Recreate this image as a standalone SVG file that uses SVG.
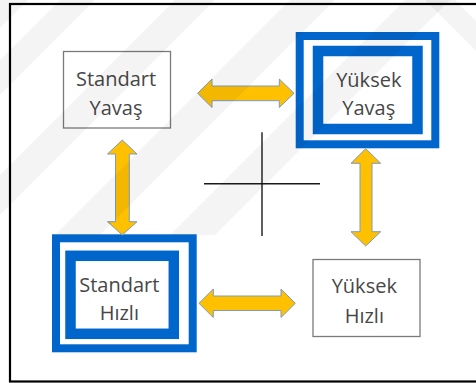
<svg xmlns="http://www.w3.org/2000/svg" width="476" height="383" viewBox="0 0 476 383">
  <style>
    .lbl { font-family: "Open Sans", "Noto Sans", "DejaVu Sans", sans-serif; font-size: 20px; fill: #474747; text-anchor: middle; }
    .plain { fill: #ffffff; stroke: #7a7a7a; stroke-width: 1.3; }
    .outer { fill: none; stroke: #0066cc; stroke-width: 8; }
    .inner { fill: #ffffff; stroke: #0066cc; stroke-width: 10.5; }
    .arrow { fill: #ffc000; stroke: #7d9cc0; stroke-width: 1; stroke-linejoin: miter; }
    .cross { stroke: #1a1a1a; stroke-width: 1.4; }
    .wm { fill: #000000; fill-opacity: 0.045; }
  </style>

  <!-- page -->
  <rect x="0" y="0" width="476" height="383" fill="#ffffff"/>

  <!-- nodes -->
  <g id="standart-yavas">
    <rect class="plain" x="63.5" y="51.5" width="107" height="76.5"/>
    <text class="lbl" x="116" y="85.5">Standart</text>
    <text class="lbl" x="116" y="114.5">Yavaş</text>
  </g>

  <g id="yuksek-yavas">
    <rect class="outer" x="299.7" y="36" width="135.6" height="108.3"/>
    <rect class="inner" x="318" y="51" width="99.5" height="78"/>
    <text class="lbl" x="368.8" y="86.5">Yüksek</text>
    <text class="lbl" x="368.8" y="115">Yavaş</text>
  </g>

  <g id="standart-hizli">
    <rect class="outer" x="56" y="238.3" width="136.7" height="110"/>
    <rect class="inner" x="70.5" y="255.8" width="103.3" height="78"/>
    <text class="lbl" x="119.3" y="291.5">Standart</text>
    <text class="lbl" x="119.3" y="320">Hızlı</text>
  </g>

  <g id="yuksek-hizli">
    <rect class="plain" x="313" y="259.5" width="107" height="77"/>
    <text class="lbl" x="364.3" y="293.3">Yüksek</text>
    <text class="lbl" x="364.3" y="322.5">Hızlı</text>
  </g>

  <!-- connectors: double-headed block arrows -->
  <g id="connectors">
    <polygon class="arrow" points="197.7,93.3 212,79 212,86 279.3,86 279.3,79 294,93.3 279.3,107.5 279.3,100.7 212,100.7 212,107.5"/>
    <polygon class="arrow" points="199,303.3 213.3,289 213.3,296 281,296 281,289 295.3,303.3 281,317.5 281,310.5 213.3,310.5 213.3,317.5"/>
    <polygon class="arrow" points="122.3,140 137,154 129.3,154 129.3,221.7 137,221.7 122.3,235 107.5,221.7 115.5,221.7 115.5,154 107.5,154"/>
    <polygon class="arrow" points="365.7,148.7 380.7,163.3 372,163.3 372,231.7 380.7,231.7 365.7,246 351,231.7 360,231.7 360,163.3 351,163.3"/>
  </g>

  <!-- axis cross in the middle -->
  <g id="cross">
    <line class="cross" x1="204" y1="183.7" x2="320" y2="183.7"/>
    <line class="cross" x1="262" y1="132.3" x2="262" y2="236"/>
  </g>

  <!-- faint diagonal background bands -->
  <g id="bands">
    <polygon class="wm" points="0,0 28,0 0,28"/>
    <polygon class="wm" points="60,0 95,0 0,95 0,60"/>
    <polygon class="wm" points="175,0 215,0 0,215 0,175"/>
    <polygon class="wm" points="290,0 335,0 100,235 55,235"/>
    <polygon class="wm" points="405,0 450,0 215,235 170,235"/>
    <polygon class="wm" points="425,0 455,0 476,21 476,51"/>
  </g>

  <!-- outer frame -->
  <rect x="10" y="4" width="480" height="377.5" fill="none" stroke="#000000" stroke-width="2.2"/>
</svg>
